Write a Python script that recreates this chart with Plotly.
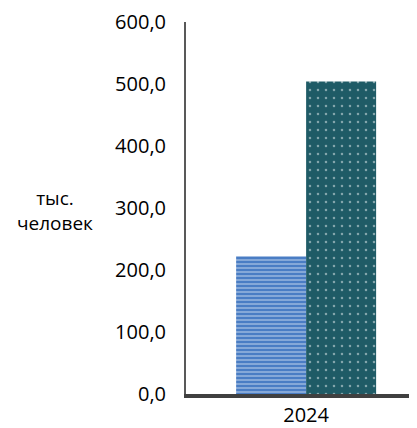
import plotly.graph_objects as go

categories = ["2024"]
series_a = [222.0]
series_b = [504.0]
y_ticks = [0, 100, 200, 300, 400, 500, 600]
y_tick_labels = ["0,0", "100,0", "200,0", "300,0", "400,0", "500,0", "600,0"]

FONT = "Open Sans, Noto Sans, sans-serif"

fig = go.Figure()
fig.add_trace(go.Bar(
    x=categories, y=series_a,
    marker=dict(color="#4a7dc4", line=dict(width=0),
                pattern=dict(shape="-", fgcolor="#dfe9f7", bgcolor="#4a7dc4",
                             size=4, solidity=0.4)),
    showlegend=False,
))
fig.add_trace(go.Bar(
    x=categories, y=series_b,
    marker=dict(color="#1f5b66", line=dict(width=0),
                pattern=dict(shape=".", fgcolor="#e6eef0", bgcolor="#1f5b66",
                             size=8, solidity=0.08)),
    showlegend=False,
))

# page body adds an 8px offset; compensate in figure size and margins
fig.update_layout(
    width=409, height=420,
    margin=dict(l=178, r=0, t=13, b=31),
    paper_bgcolor="white", plot_bgcolor="white",
    barmode="group", bargap=0.394, bargroupgap=0,
    font=dict(family=FONT, size=20, color="#000000"),
    xaxis=dict(type="category", range=[-0.52, 0.48], showgrid=False,
               showline=True, linecolor="#404040", linewidth=4,
               ticks="", tickfont=dict(size=20)),
    yaxis=dict(range=[0, 600], tickvals=y_ticks, ticktext=y_tick_labels,
               showgrid=False, zeroline=False, showline=True,
               linecolor="#595959", linewidth=2, ticks="",
               ticklabelstandoff=14, ticklabeloverflow="allow",
               tickfont=dict(size=20)),
    annotations=[dict(text="тыс.<br>человек", xref="paper", yref="paper",
                      x=(55 - 186) / 231, y=(398 - 212) / 377,
                      xanchor="center", yanchor="middle", showarrow=False,
                      font=dict(family=FONT, size=19, color="#000000"))],
)

fig.write_html("out.html")
